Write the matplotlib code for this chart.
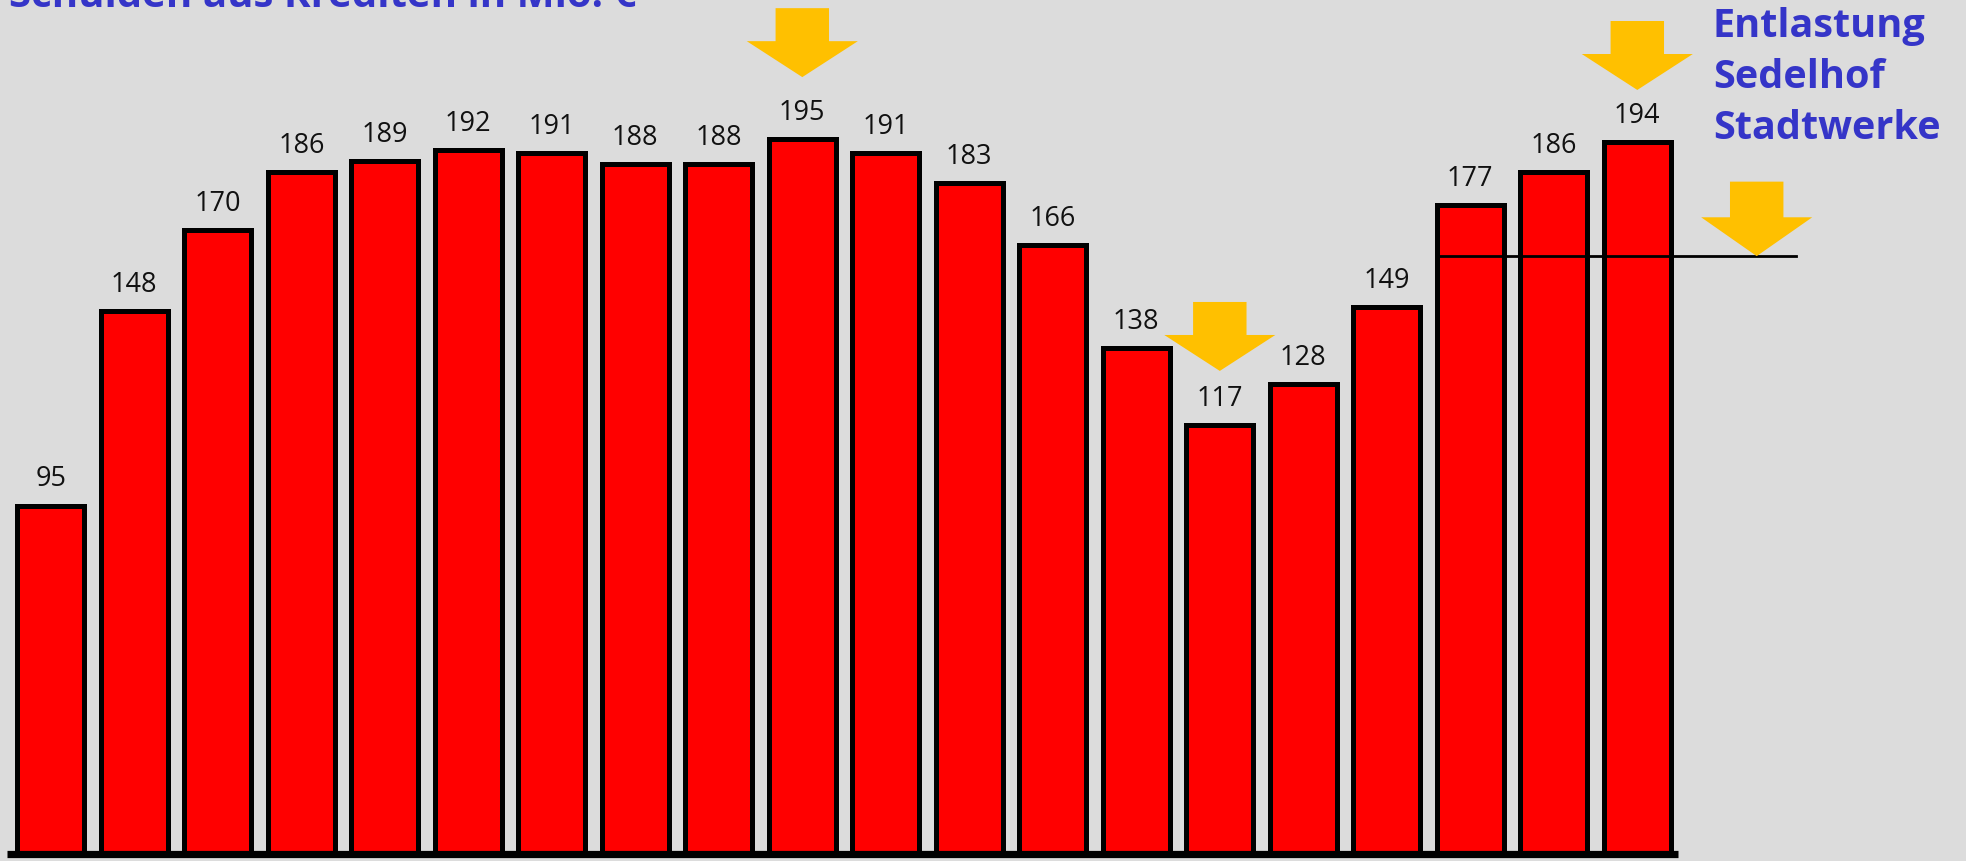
import matplotlib

matplotlib.use("Agg")
import matplotlib.pyplot as plt
from matplotlib.patches import Polygon

# --- data ------------------------------------------------------------------
values = [95, 148, 170, 186, 189, 192, 191, 188, 188, 195,
          191, 183, 166, 138, 117, 128, 149, 177, 186, 194]
title = "Schulden aus Krediten in Mio. €"
note_lines = ["Entlastung", "Sedelhof", "Stadtwerke"]
# arrows: (x position in bar units, tip value, size factor)
arrows = [(9, 211.8, 1.0), (14, 131.7, 1.0), (19, 208.3, 1.0), (20.43, 163, 1.08)]
ref_level = 163
ref_span = (16.59, 20.9)

BG = "#DCDCDC"
RED = "#FF0000"
YELLOW = "#FFC000"
BLUE = "#3535C8"

W, H, DPI = 1966, 862, 100
fig = plt.figure(figsize=(W / DPI, H / DPI), dpi=DPI, facecolor=BG)
ax = fig.add_axes([0, 0, 1, 1])
ax.set_facecolor(BG)
ax.axis("off")

# pixel mapping: bar i centre at 50.8 + 83.5*i px, value 0 at 855 px from top
ppu_x, ppu_y = 83.5, 3.668
ax.set_xlim(-50.8 / ppu_x, (W - 50.8) / ppu_x)
ax.set_ylim(-(H - 855) / ppu_y, 855 / ppu_y)

x = list(range(len(values)))
ax.bar(x, values, width=0.8, color=RED, edgecolor="black", linewidth=3.6,
       zorder=2)
for xi, v in zip(x, values):
    ax.annotate(str(v), (xi, v), xytext=(0, 14.5), textcoords="offset points",
                ha="center", va="baseline", fontsize=19.5, family="Open Sans",
                color="#111111", zorder=4)

# thick baseline
ax.plot([-0.52, 19.49], [0, 0], color="black", lw=5.2, solid_capstyle="butt",
        zorder=3)

# reference line
ax.plot(ref_span, [ref_level, ref_level], color="black", lw=2.0, zorder=3)

# yellow arrows
shaft_hw, head_hw, head_len, shaft_len = 0.32, 0.665, 9.8, 9.0
for ax_x, tip, k in arrows:
    hl, sl = head_len * k, shaft_len * k
    pts = [(ax_x - shaft_hw, tip + hl + sl),
           (ax_x + shaft_hw, tip + hl + sl),
           (ax_x + shaft_hw, tip + hl),
           (ax_x + head_hw, tip + hl),
           (ax_x, tip),
           (ax_x - head_hw, tip + hl),
           (ax_x - shaft_hw, tip + hl)]
    ax.add_patch(Polygon(pts, closed=True, facecolor=YELLOW, edgecolor="none",
                         zorder=5))

# texts
fig.text(9 / W, 1 - 7 / H, title, ha="left", va="baseline", fontsize=29,
         fontweight="bold", family="Open Sans", color=BLUE)
for i, line in enumerate(note_lines):
    fig.text(1713 / W, 1 - (37 + 51 * i) / H, line, ha="left", va="baseline",
             fontsize=28.5, fontweight="bold", family="Open Sans", color=BLUE)

fig.savefig("out.png", dpi=DPI, facecolor=BG)
